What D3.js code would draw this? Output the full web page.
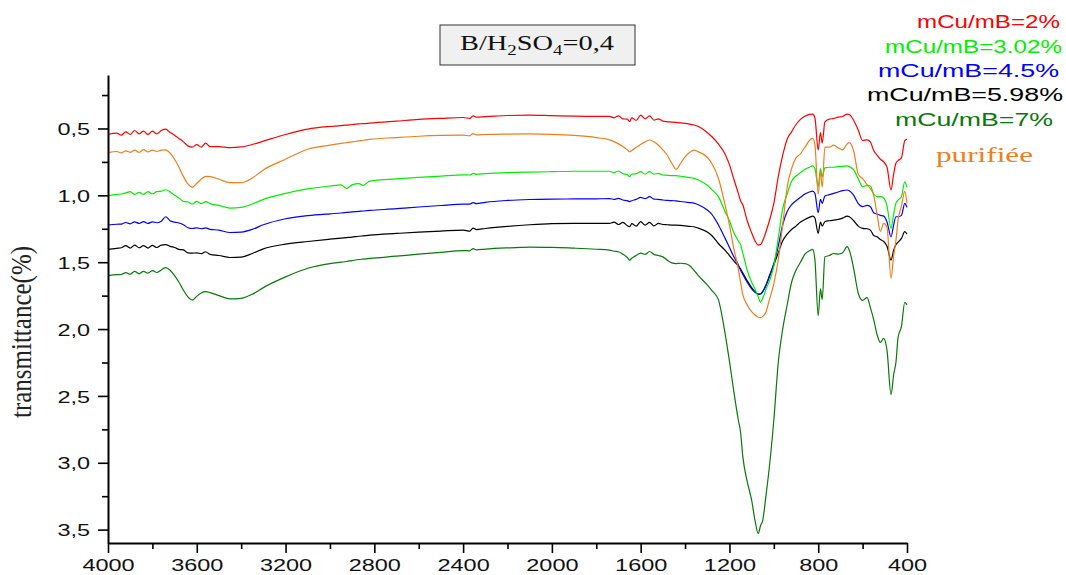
<!DOCTYPE html>
<html>
<head>
<meta charset="utf-8">
<script src="https://cdn.jsdelivr.net/npm/d3@7"></script>
<style>
    body { margin: 0; background: #fff; }
    svg { display: block; }
</style>
</head>
<body>
<div id="chart"></div>
<script>
// wavenumbers (cm-1), shared by every spectrum
const wavenumbers = [
    4000, 3960, 3940, 3920, 3900, 3880, 3860, 3840, 3820, 3800,
    3780, 3760, 3740, 3720, 3700, 3680, 3660, 3640, 3620, 3600,
    3580, 3560, 3540, 3500, 3450, 3400, 3350, 3300, 3200, 3100,
    3000, 2950, 2925, 2900, 2870, 2850, 2820, 2700, 2600, 2500,
    2400, 2370, 2355, 2340, 2300, 2200, 2100, 2000, 1900, 1800,
    1740, 1720, 1700, 1680, 1660, 1650, 1640, 1620, 1600, 1580,
    1560, 1540, 1520, 1500, 1480, 1460, 1440, 1420, 1400, 1380,
    1360, 1340, 1300, 1280, 1250, 1220, 1200, 1180, 1160, 1150,
    1140, 1120, 1100, 1085, 1070, 1060, 1050, 1035, 1020, 1000,
    980, 960, 940, 920, 900, 880, 860, 840, 825, 815,
    800, 790, 782, 770, 750, 730, 710, 690, 670, 660,
    640, 620, 600, 580, 565, 550, 535, 520, 505, 490,
    472, 460, 450, 440, 425, 410, 400
];

const cu2 = [
    0.545, 0.535, 0.55, 0.525, 0.545, 0.515, 0.54, 0.52, 0.545, 0.52,
    0.54, 0.515, 0.505, 0.53, 0.55, 0.575, 0.6, 0.63, 0.64, 0.62,
    0.64, 0.61, 0.635, 0.635, 0.643, 0.638, 0.62, 0.595, 0.545, 0.505,
    0.485, 0.478, 0.475, 0.47, 0.466, 0.463, 0.46, 0.445, 0.432, 0.424,
    0.418, 0.425, 0.405, 0.415, 0.412, 0.403, 0.4, 0.404, 0.408, 0.41,
    0.41, 0.42, 0.405, 0.428, 0.43, 0.448, 0.42, 0.44, 0.4, 0.428,
    0.405, 0.438, 0.428, 0.445, 0.45, 0.452, 0.455, 0.458, 0.462, 0.467,
    0.474, 0.485, 0.53, 0.56, 0.615, 0.69, 0.77, 0.88, 0.985, 1.04,
    1.07, 1.19, 1.28, 1.34, 1.372, 1.368, 1.34, 1.27, 1.19, 1.06,
    0.86, 0.70, 0.58, 0.525, 0.47, 0.432, 0.408, 0.395, 0.392, 0.42,
    0.66, 0.53, 0.61, 0.45, 0.43, 0.425, 0.415, 0.41, 0.392, 0.395,
    0.44, 0.51, 0.59, 0.585, 0.6, 0.665, 0.7, 0.73, 0.75, 0.79,
    0.96, 0.84, 0.76, 0.74, 0.72, 0.59, 0.58
];

const purifiee = [
    0.68, 0.672, 0.683, 0.667, 0.678, 0.662, 0.678, 0.658, 0.676, 0.662,
    0.672, 0.662, 0.66, 0.685, 0.73, 0.79, 0.86, 0.915, 0.94, 0.91,
    0.88, 0.858, 0.86, 0.88, 0.905, 0.905, 0.87, 0.81, 0.73, 0.655,
    0.625, 0.612, 0.606, 0.6, 0.593, 0.588, 0.582, 0.568, 0.558, 0.552,
    0.55, 0.555, 0.538, 0.548, 0.545, 0.542, 0.541, 0.544, 0.552, 0.568,
    0.585, 0.598, 0.615, 0.635, 0.66, 0.674, 0.665, 0.64, 0.62, 0.6,
    0.586, 0.6, 0.625, 0.66, 0.7, 0.76, 0.805, 0.76, 0.712, 0.68,
    0.662, 0.675, 0.715, 0.76, 0.87, 1.07, 1.22, 1.40, 1.55, 1.65,
    1.74, 1.82, 1.87, 1.895, 1.912, 1.915, 1.905, 1.87, 1.78, 1.66,
    1.48, 1.22, 0.94, 0.8, 0.72, 0.69, 0.64, 0.59, 0.574, 0.62,
    0.99, 0.82, 0.94, 0.64, 0.64, 0.625, 0.645, 0.66, 0.615, 0.605,
    0.67, 0.84, 0.875, 0.92, 0.95, 1.0, 1.14, 1.27, 1.21, 1.24,
    1.62, 1.45, 1.34, 1.18, 1.08, 0.97, 1.06
];

const cu302 = [
    1.003, 0.993, 0.99, 0.982, 0.972, 0.993, 0.978, 0.993, 0.972, 0.988,
    0.972, 0.968, 0.958, 0.975, 1.0, 1.02, 1.045, 1.05, 1.065, 1.045,
    1.062, 1.047, 1.062, 1.075, 1.095, 1.09, 1.065, 1.03, 0.985, 0.952,
    0.93, 0.922, 0.948, 0.922, 0.912, 0.925, 0.893, 0.877, 0.866, 0.856,
    0.847, 0.848, 0.836, 0.843, 0.838, 0.83, 0.826, 0.823, 0.82, 0.82,
    0.82, 0.83, 0.818, 0.838, 0.845, 0.86, 0.842, 0.838, 0.822, 0.842,
    0.822, 0.842, 0.835, 0.848, 0.85, 0.852, 0.853, 0.857, 0.862, 0.867,
    0.873, 0.885, 0.925, 0.955, 1.01, 1.12, 1.19, 1.28, 1.34, 1.37,
    1.43, 1.56, 1.65, 1.70, 1.76, 1.80, 1.77, 1.70, 1.64, 1.53,
    1.32, 1.10, 0.99, 0.895, 0.855, 0.83, 0.805, 0.79, 0.78, 0.8,
    0.935, 0.8, 0.86, 0.795, 0.79, 0.79, 0.785, 0.783, 0.78, 0.785,
    0.81, 0.875, 0.935, 0.925, 0.93, 0.99, 1.01, 1.01, 1.02, 1.08,
    1.247, 1.14, 1.06, 1.035, 1.01, 0.9, 0.94
];

const cu45 = [
    1.222, 1.216, 1.215, 1.203, 1.213, 1.198, 1.21, 1.196, 1.21, 1.198,
    1.205, 1.193, 1.16, 1.19, 1.2, 1.207, 1.22, 1.242, 1.248, 1.243,
    1.25, 1.243, 1.254, 1.26, 1.278, 1.275, 1.255, 1.22, 1.175, 1.152,
    1.138, 1.132, 1.128, 1.124, 1.12, 1.117, 1.113, 1.1, 1.087, 1.076,
    1.066, 1.065, 1.055, 1.062, 1.052, 1.038, 1.031, 1.028, 1.027, 1.026,
    1.025, 1.03, 1.022, 1.035, 1.04, 1.047, 1.04, 1.03, 1.015, 1.025,
    1.01, 1.028, 1.03, 1.035, 1.038, 1.04, 1.042, 1.046, 1.05, 1.054,
    1.058, 1.07, 1.11, 1.14, 1.22, 1.32, 1.39, 1.46, 1.52, 1.56,
    1.59, 1.65, 1.70, 1.725, 1.737, 1.738, 1.72, 1.67, 1.6, 1.51,
    1.38, 1.22, 1.12, 1.07, 1.04, 1.015, 0.99, 0.975, 0.968, 0.985,
    1.13, 1.03, 1.06, 1.005, 0.995, 0.985, 0.975, 0.965, 0.96, 0.965,
    1.0, 1.06, 1.085, 1.075, 1.085, 1.13, 1.14, 1.15, 1.155, 1.2,
    1.31, 1.22, 1.16, 1.16, 1.15, 1.06, 1.09
];

const cu598 = [
    1.404, 1.396, 1.392, 1.376, 1.394, 1.372, 1.392, 1.376, 1.394, 1.374,
    1.39, 1.372, 1.368, 1.382, 1.39, 1.404, 1.408, 1.43, 1.432, 1.43,
    1.436, 1.422, 1.442, 1.45, 1.465, 1.462, 1.435, 1.4, 1.365, 1.345,
    1.328, 1.32, 1.316, 1.312, 1.306, 1.303, 1.298, 1.285, 1.275, 1.267,
    1.26, 1.268, 1.245, 1.256, 1.248, 1.232, 1.22, 1.212, 1.21, 1.21,
    1.21, 1.2, 1.218, 1.202, 1.228, 1.235, 1.212, 1.23, 1.196, 1.222,
    1.202, 1.228, 1.21, 1.218, 1.22, 1.222, 1.223, 1.225, 1.228, 1.232,
    1.235, 1.245, 1.275, 1.30, 1.36, 1.41, 1.45, 1.49, 1.53, 1.55,
    1.58, 1.64, 1.69, 1.72, 1.74, 1.738, 1.72, 1.67, 1.61, 1.52,
    1.43, 1.34, 1.29, 1.255, 1.23, 1.2, 1.18, 1.165, 1.155, 1.17,
    1.284, 1.2, 1.23, 1.197, 1.19, 1.185, 1.18, 1.17, 1.155, 1.16,
    1.19, 1.23, 1.247, 1.25, 1.26, 1.3, 1.31, 1.33, 1.345, 1.38,
    1.484, 1.41, 1.37, 1.35, 1.322, 1.272, 1.29
];

const cu7 = [
    1.601, 1.593, 1.592, 1.578, 1.59, 1.568, 1.587, 1.568, 1.582, 1.563,
    1.577, 1.558, 1.541, 1.56, 1.6, 1.65, 1.71, 1.76, 1.783, 1.755,
    1.73, 1.72, 1.728, 1.75, 1.775, 1.77, 1.74, 1.69, 1.61, 1.545,
    1.51, 1.5, 1.495, 1.488, 1.48, 1.477, 1.472, 1.455, 1.44, 1.427,
    1.413, 1.415, 1.398, 1.408, 1.402, 1.393, 1.388, 1.389, 1.395, 1.403,
    1.41, 1.418, 1.422, 1.44, 1.465, 1.484, 1.47, 1.45, 1.432, 1.442,
    1.42, 1.442, 1.45, 1.46, 1.485, 1.505, 1.51, 1.508, 1.51, 1.525,
    1.56, 1.6, 1.67, 1.71, 1.78, 2.03, 2.24, 2.47, 2.68, 2.77,
    2.95, 3.14, 3.28, 3.43, 3.53, 3.47, 3.43, 3.24, 3.03, 2.68,
    2.25, 2.0, 1.82, 1.65, 1.56, 1.5, 1.44, 1.415, 1.404, 1.48,
    1.90, 1.70, 1.78, 1.46, 1.45, 1.435, 1.44, 1.43, 1.384, 1.41,
    1.55, 1.73, 1.785, 1.765, 1.84, 1.93, 2.04, 2.1, 2.07, 2.16,
    2.49, 2.34, 2.25, 2.06, 1.98, 1.80, 1.82
];

const seriesNames = ["mCu/mB=2%", "mCu/mB=3.02%", "mCu/mB=4.5%", "mCu/mB=5.98%", "mCu/mB=7%", "purifiée"];
const seriesValues = [cu2, cu302, cu45, cu598, cu7, purifiee];
const seriesColors = ["#ff0000", "#00ee00", "#0000ff", "#000000", "#0a780a", "#f07d1e"];

const xTicks = [4000, 3600, 3200, 2800, 2400, 2000, 1600, 1200, 800, 400];
const xMinorTicks = [3800, 3400, 3000, 2600, 2200, 1800, 1400, 1000, 600];
const yTicks = [0.5, 1.0, 1.5, 2.0, 2.5, 3.0, 3.5];
const yMinorTicks = [0.25, 0.75, 1.25, 1.75, 2.25, 2.75, 3.25];

const svgWidth = 1066;
const svgHeight = 575;
const sansFont = "'Liberation Sans', Arial, sans-serif";
const serifFont = "'Liberation Serif', 'Times New Roman', serif";
const stretch = 1.38; // the reference text is drawn wide

const svg = d3.select("#chart")
    .append("svg")
    .attr("width", svgWidth)
    .attr("height", svgHeight);

const xScale = d3.scaleLinear()
    .domain([4000, 400])
    .range([108, 907]);

const yScale = d3.scaleLinear()
    .domain([0.1, 3.6])
    .range([75, 543]);

// spectra, drawn bottom curve first
const line = d3.line()
    .x(d => xScale(d[0]))
    .y(d => yScale(d[1]))
    .curve(d3.curveMonotoneX);

const drawOrder = [4, 3, 2, 1, 5, 0];
drawOrder.forEach(i => {
    const pts = wavenumbers.map((w, j) => [w, seriesValues[i][j]])
        .filter(p => p[1] !== undefined);
    svg.append("path")
        .datum(pts)
        .attr("fill", "none")
        .attr("stroke", seriesColors[i])
        .attr("stroke-width", 1.2)
        .attr("stroke-linejoin", "round")
        .attr("d", line);
});

// x axis
const xAxis = svg.append("g")
    .attr("transform", `translate(0,${yScale(3.6)})`)
    .call(d3.axisBottom(xScale).tickValues(xTicks).tickSize(10).tickSizeOuter(0).tickFormat(d3.format("d")));

xAxis.append("g")
    .call(d3.axisBottom(xScale).tickValues(xMinorTicks).tickSize(6).tickFormat(""))
    .select(".domain").remove();

xAxis.selectAll("text")
    .attr("y", null)
    .attr("dy", null)
    .attr("transform", `translate(0,28) scale(${stretch},1)`)
    .attr("font-family", sansFont)
    .attr("font-size", "17px")
    .attr("fill", "#111");

// y axis
const yAxis = svg.append("g")
    .attr("transform", `translate(${xScale(4000)},0)`)
    .call(d3.axisLeft(yScale).tickValues(yTicks).tickSize(10).tickSizeOuter(0)
        .tickFormat(d => d3.format(".1f")(d).replace(".", ",")));

yAxis.append("g")
    .call(d3.axisLeft(yScale).tickValues(yMinorTicks).tickSize(6).tickFormat(""))
    .select(".domain").remove();

yAxis.selectAll("text")
    .attr("x", null)
    .attr("dy", "0.36em")
    .attr("transform", `translate(-18,0) scale(${stretch},1)`)
    .attr("font-family", sansFont)
    .attr("font-size", "17px")
    .attr("fill", "#111");

svg.selectAll(".domain").attr("stroke-width", 2);
svg.selectAll(".tick line").attr("stroke-width", 1.6);

// y axis title
svg.append("text")
    .attr("transform", "translate(31,332) rotate(-90) scale(1,1.2)")
    .attr("text-anchor", "middle")
    .attr("font-family", serifFont)
    .attr("font-size", "25px")
    .attr("fill", "#222")
    .text("transmittance(%)");

// title box
svg.append("rect")
    .attr("x", 440)
    .attr("y", 25)
    .attr("width", 195)
    .attr("height", 40)
    .attr("fill", "#f0f0f0")
    .attr("stroke", "#333")
    .attr("stroke-width", 1);

const title = svg.append("text")
    .attr("transform", `translate(537,50) scale(1.35,1)`)
    .attr("text-anchor", "middle")
    .attr("font-family", serifFont)
    .attr("font-size", "21px")
    .attr("fill", "#111");
title.append("tspan").text("B/H");
title.append("tspan").attr("dy", 5).attr("font-size", "14px").text("2");
title.append("tspan").attr("dy", -5).text("SO");
title.append("tspan").attr("dy", 5).attr("font-size", "14px").text("4");
title.append("tspan").attr("dy", -5).text("=0,4");

// legend labels: [left, right, baseline]
const legendPos = [[917, 1060, 28], [885, 1062, 53], [878, 1059, 77], [867, 1063, 101], [895, 1053, 126], [936, 1033, 162]];
seriesNames.forEach((name, i) => {
    const isSerif = i === 5;
    svg.append("text")
        .attr("x", legendPos[i][0])
        .attr("y", legendPos[i][2])
        .attr("textLength", legendPos[i][1] - legendPos[i][0])
        .attr("lengthAdjust", "spacingAndGlyphs")
        .attr("font-family", isSerif ? serifFont : sansFont)
        .attr("font-size", isSerif ? "22px" : "18.5px")
        .attr("fill", seriesColors[i])
        .text(name);
});
</script>
</body>
</html>
